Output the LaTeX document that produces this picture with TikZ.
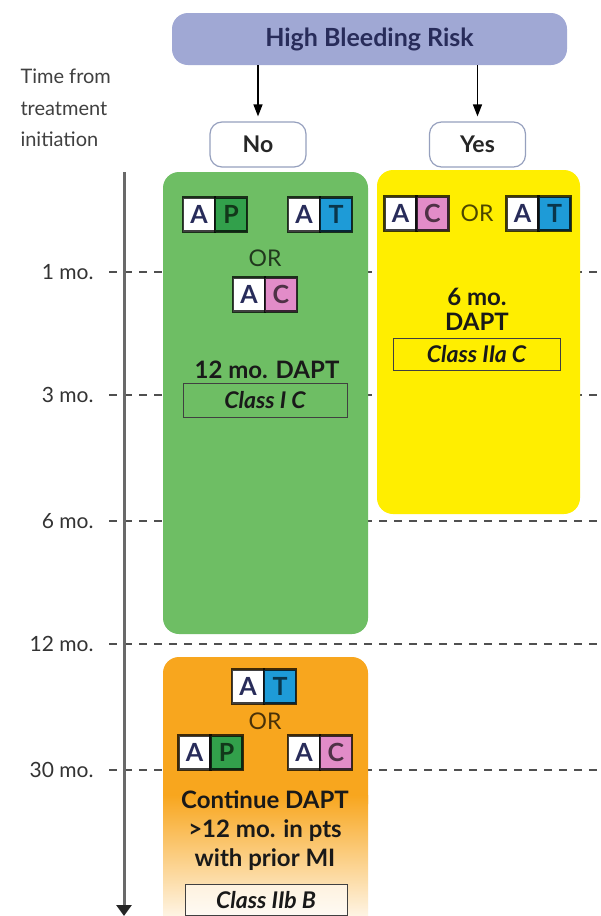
\documentclass[tikz,border=0pt]{standalone}
\usepackage{fontspec}
\setmainfont{Lato}
\usetikzlibrary{arrows.meta}
\definecolor{lav}{RGB}{160,168,212}
\definecolor{navy}{RGB}{40,44,90}
\definecolor{grn}{RGB}{110,190,100}
\definecolor{ylw}{RGB}{255,238,0}
\definecolor{org}{RGB}{248,166,30}
\definecolor{cP}{RGB}{50,160,75}
\definecolor{cT}{RGB}{30,155,215}
\definecolor{cC}{RGB}{226,140,200}
\definecolor{axisgray}{RGB}{105,105,105}
\definecolor{dashgray}{RGB}{80,80,80}
\definecolor{pillline}{RGB}{150,160,190}
\newcommand\duo[4]{%
  \node[cell, fill=white, anchor=east] (#1A) at (#2) {A};
  \node[cell, fill=#4, text=#4!35!black, anchor=west] (#1B) at (#2) {#3};}
\begin{document}
\begin{tikzpicture}[x=1pt,y=-1pt,
  topbox/.style={fill=lav, rounded corners=16pt, minimum width=395pt, minimum height=52pt, inner sep=0pt, text=navy, font=\bfseries\fontsize{25}{25}\selectfont},
  answer/.style={draw=pillline, line width=1.2pt, fill=white, rounded corners=12pt, minimum width=96pt, minimum height=45pt, inner sep=0pt, text=black!85, font=\bfseries\fontsize{23}{23}\selectfont},
  arr/.style={line width=1.5pt, -{Triangle[width=9pt,length=12pt]}, shorten >=5pt},
  panel/.style={rounded corners=16pt, inner sep=0pt},
  cell/.style={draw=black, draw opacity=0.75, line width=2.4pt, outer sep=0pt, minimum width=32pt, minimum height=34pt, inner sep=0pt, text=navy, font=\fontsize{25}{25}\selectfont\bfseries},
  ortext/.style={text=black, text opacity=0.7, font=\fontsize{23}{23}\selectfont},
  bodytext/.style={text=black!90, align=center, font=\bfseries\fontsize{24}{26}\selectfont},
  classbox/.style={draw=black!75, line width=1pt, minimum height=34pt, inner sep=0pt, text=black!90, font=\bfseries\itshape\fontsize{23}{23}\selectfont},
  tick/.style={anchor=east, text=black!80, font=\fontsize{21}{21}\selectfont},
  dashline/.style={draw=dashgray, line width=2.8pt, dash pattern=on 8pt off 7pt}]
\clip (0,0) rectangle (600,916);
\fill[white] (0,0) rectangle (600,916);
% time axis labels and dashed lines
\node[anchor=west, align=left, text=black!75, font=\fontsize{20}{31.5}\selectfont] (tlabel) at (17,108) {Time from\\treatment\\initiation};
\node[tick] (t1) at (97,272) {1 mo.};
\node[tick] (t3) at (97,395) {3 mo.};
\node[tick] (t6) at (97,521) {6 mo.};
\node[tick] (t12) at (97,644) {12 mo.};
\node[tick] (t30) at (97,770) {30 mo.};
\foreach \t in {t1,t3,t6,t12,t30}{
  \draw[dashline] (\t.east) ++(12,0) -- (\t.east -| 600,0);
}
% axis
\coordinate (axtop) at (124,172);
\coordinate (axbot) at (124,916);
\draw[draw=axisgray, line width=3pt, -{Triangle[width=15pt,length=11pt,color=black!85,fill=black!85]}] (axtop) -- (axbot);
% header
\node[topbox] (hbr) at (369.5,39) {High Bleeding Risk};
\node[answer] (no) at (258,144.5) {No};
\node[answer] (yes) at (477.5,144.5) {Yes};
\draw[arr] (hbr.south -| no.north) -- (no.north);
\draw[arr] (hbr.south -| yes.north) -- (yes.north);
% panels
\node[panel, fill=grn, minimum width=205pt, minimum height=462pt] (green) at (265.5,403) {};
\node[panel, fill=ylw, minimum width=203pt, minimum height=344pt] (yellow) at (478.5,342) {};
\fill[org, rounded corners=16pt] (163,657) rectangle (368,820);
\shade[top color=org, bottom color=org!12] (163,795) rectangle (368,916);
\coordinate (orange) at (265.5,786);
% green panel content
\duo{gap}{215,214.5}{P}{cP}
\duo{gat}{320,214.5}{T}{cT}
\node[ortext] (gor) at (265,258) {OR};
\duo{gac}{265,294.5}{C}{cC}
\node[bodytext] (gtxt) at (267,370) {12 mo. DAPT};
\node[classbox, minimum width=164pt] (gclass) at (265,400.5) {Class I C};
% yellow panel content
\duo{yac}{416.5,213.5}{C}{cC}
\node[ortext] (yor) at (477,213) {OR};
\duo{yat}{538.5,213.5}{T}{cT}
\node[bodytext, font=\bfseries\fontsize{24}{25.5}\selectfont] (ytxt) at (477,309.5) {6 mo.\\DAPT};
\node[classbox, minimum width=167pt, minimum height=32pt] (yclass) at (476.5,354) {Class IIa C};
% orange panel content
\duo{oat}{264,686.5}{T}{cT}
\node[ortext] (oor) at (265,721) {OR};
\duo{oap}{210.5,752.5}{P}{cP}
\duo{oac}{320,752.5}{C}{cC}
\node[bodytext, font=\bfseries\fontsize{24}{29}\selectfont] (otxt) at (265,831) {Continue DAPT\\>12 mo. in pts\\with prior MI};
\node[classbox, minimum width=162pt, minimum height=31pt, fill=white, fill opacity=0.6, text opacity=1] (oclass) at (266,900) {Class IIb B};
\end{tikzpicture}
\end{document}
